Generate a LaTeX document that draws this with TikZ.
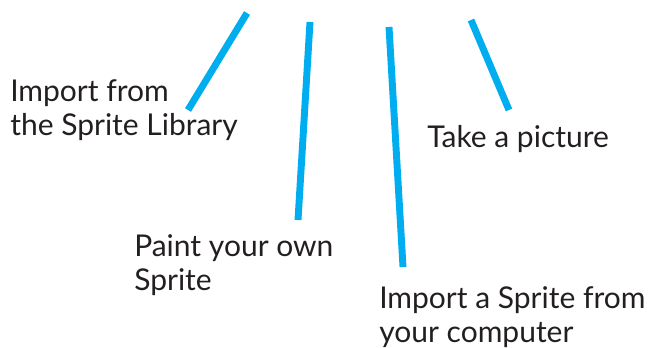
\documentclass[tikz,border=0pt]{standalone}
\usepackage{fontspec}
\setmainfont{Lato}
\definecolor{linkblue}{HTML}{00AEEF}
\definecolor{ink}{HTML}{231F20}
\begin{document}
\begin{tikzpicture}[x=0.75pt,y=-0.75pt,
  pointer/.style={draw=linkblue,line width=5.2pt},
  label/.style={anchor=base west,inner sep=0pt,align=left,text=ink,
    font=\fontsize{22.5}{25.2}\selectfont}]
\useasboundingbox (0,0) rectangle (648,347);
% labels (anchored at the baseline of their last line)
\node[label] (lib) at (10,135) {Import from\\the Sprite Library};
\node[label] (paint) at (134,290) {Paint your own\\Sprite};
\node[label] (comp) at (379,342) {Import a Sprite from\\your computer};
\node[label] (cam) at (427,147) {Take a picture};
% pointer ends
\coordinate (libTop) at (247,13);   \coordinate (libEnd) at (188,110);
\coordinate (paintTop) at (310,22); \coordinate (paintEnd) at (298,220);
\coordinate (compTop) at (389,27);  \coordinate (compEnd) at (403,267);
\coordinate (camTop) at (471,20);   \coordinate (camEnd) at (509,110);
\draw[pointer] (libTop) -- (libEnd);
\draw[pointer] (paintTop) -- (paintEnd);
\draw[pointer] (compTop) -- (compEnd);
\draw[pointer] (camTop) -- (camEnd);
\end{tikzpicture}
\end{document}
